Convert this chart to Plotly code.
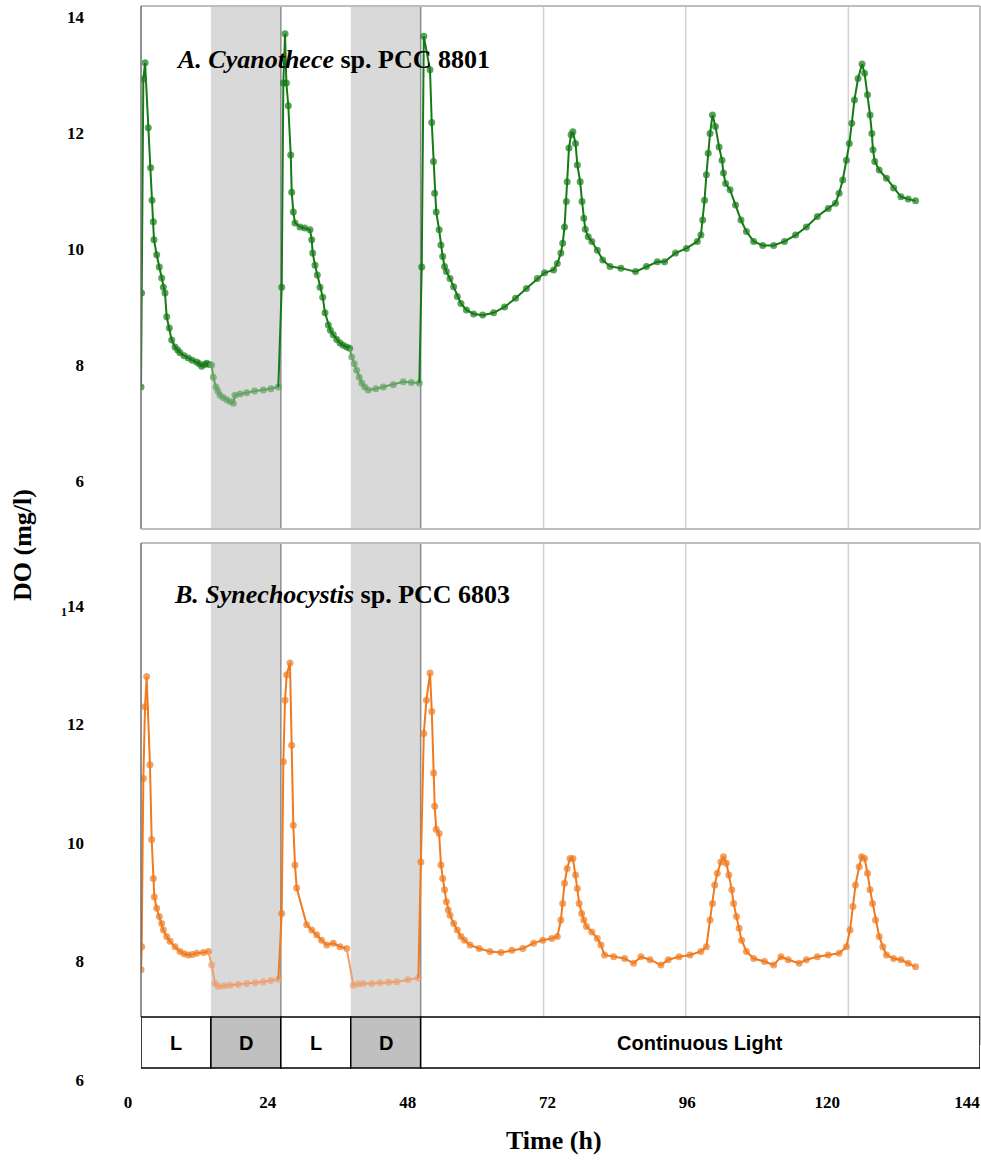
import plotly.graph_objects as go

# ---------------- data ----------------
cyano_time = [0.0, 0.1, 0.4, 0.7, 1.25, 1.66, 1.89, 2.11, 2.23, 2.69, 3.14, 3.55, 3.83, 4.12, 4.41,
              4.86, 5.27, 5.84, 6.3, 6.69, 7.4, 8.12, 8.8, 9.56, 10.0, 10.42, 10.9, 11.28, 11.7,
              12.13, 12.41, 12.87, 13.2, 13.56, 14.1, 14.71, 15.3, 15.84, 16.13, 17.0, 18.14, 19.5,
              20.99, 22.3, 23.57,
              24.15, 24.43, 24.72, 24.95, 25.28, 25.7, 25.87, 26.14, 26.43, 27.29, 28.1, 29.0, 29.3,
              29.47, 29.87, 30.26, 30.72, 31.19, 31.58, 32.15, 32.5, 33.0, 33.6, 34.16, 34.7, 35.3, 35.8,
              36.17, 36.6, 37.02, 37.45, 37.88, 38.4, 39.01, 40.3, 41.59, 43.3, 45.02, 46.4, 47.77,
              48.18, 48.54, 49.6, 49.9, 50.2, 50.4, 50.67, 51.17, 51.48, 51.78, 52.1, 52.42, 53.04,
              53.66, 54.29, 54.91, 55.85, 57.09, 58.65, 60.52, 62.4, 64.28, 66.15, 68.02, 69.26, 70.82,
              71.45, 72.07, 72.38, 72.69, 73.0, 73.14, 73.45, 73.82, 74.13, 74.58, 74.89, 75.38, 75.69,
              76.0, 76.26, 76.76, 77.38, 78.32, 79.25, 80.5, 82.37, 84.88, 86.75, 88.62, 89.86, 91.74,
              93.61, 95.48, 96.1, 96.41, 96.72, 97.04, 97.35, 97.66, 98.09, 98.6, 99.22, 99.72, 99.97,
              100.34, 101.1, 102.04, 102.97, 103.91, 105.15, 106.71, 108.58, 110.45, 112.34, 114.2,
              116.08, 117.95, 119.2, 119.82, 120.44, 121.07, 121.57, 122.0, 122.45, 123.07, 123.76,
              124.19, 124.7, 125.13, 125.44, 125.63, 125.94, 126.7, 127.94, 129.18, 130.43, 131.68, 132.94]
cyano_do = [7.62, 9.24, 12.93, 13.21, 12.09, 11.40, 10.84, 10.47, 10.16, 9.90, 9.69, 9.50, 9.34, 9.24, 8.83,
            8.64, 8.43, 8.31, 8.26, 8.21, 8.16, 8.12, 8.08, 8.05, 8.02, 7.98, 8.01, 8.03, 8.01,
            8.00, 7.79, 7.62, 7.55, 7.48, 7.44, 7.40, 7.37, 7.34, 7.48, 7.50, 7.52, 7.55,
            7.57, 7.59, 7.62,
            9.34, 12.86, 13.71, 12.86, 12.47, 11.62, 10.98, 10.64, 10.45, 10.38, 10.36, 10.33, 10.16,
            9.93, 9.72, 9.55, 9.34, 9.17, 8.90, 8.69, 8.60, 8.52, 8.44, 8.38, 8.34, 8.31, 8.29,
            8.14, 8.02, 7.91, 7.79, 7.69, 7.62, 7.57, 7.59, 7.62, 7.66, 7.71, 7.70, 7.69,
            9.69, 13.67, 13.09, 12.18, 11.51, 10.96, 10.64, 10.33, 10.07, 9.87, 9.70, 9.61, 9.49,
            9.35, 9.18, 9.06, 8.95, 8.88, 8.86, 8.90, 9.00, 9.15, 9.32, 9.49, 9.59, 9.64,
            9.75, 9.93, 10.10, 10.38, 10.82, 11.16, 11.74, 11.97, 12.02, 11.82, 11.45, 11.16, 10.82,
            10.53, 10.34, 10.21, 10.13, 9.98, 9.81, 9.70, 9.67, 9.61, 9.70, 9.78, 9.78, 9.93,
            10.01, 10.13, 10.24, 10.50, 10.84, 11.28, 11.65, 11.99, 12.31, 12.11, 11.76, 11.53, 11.31,
            11.13, 11.02, 10.76, 10.50, 10.30, 10.13, 10.06, 10.06, 10.13, 10.24, 10.38,
            10.56, 10.70, 10.79, 10.96, 11.19, 11.53, 11.82, 12.17, 12.57, 12.94, 13.19,
            13.03, 12.66, 12.31, 11.99, 11.71, 11.51, 11.36, 11.22, 11.05, 10.90, 10.86, 10.83]

syn_time = [0.0, 0.12, 0.4, 0.69, 0.97, 1.54, 1.83, 2.12, 2.29, 2.69, 3.14, 3.55, 3.83, 4.41, 4.98,
            5.84, 6.69, 7.4, 8.12, 8.8, 9.56, 10.7, 11.56,
            12.13, 12.7, 13.27, 14.3, 15.28, 16.7, 18.14, 19.6, 20.99, 22.3, 23.57,
            24.15, 24.43, 24.72, 25.0, 25.57, 25.86, 26.14, 26.43, 26.72, 28.44, 29.3, 30.16, 31.0,
            31.87, 33.0, 34.16, 35.3,
            36.45, 37.3, 38.16, 39.6, 41.02, 42.5, 43.89, 45.8, 47.6,
            48.04, 48.54, 48.99, 49.61, 49.91, 50.23, 50.41, 50.67, 51.17, 51.48, 51.78, 52.1, 52.42,
            52.73, 53.04, 53.66, 54.29, 54.91, 55.53, 56.47, 58.03, 59.9, 61.78, 63.65, 65.52, 67.39,
            68.95, 70.51, 71.45, 72.07, 72.38, 72.69, 73.14, 73.64, 74.13, 74.58, 74.89, 75.2, 75.63,
            76.0, 76.45, 77.38, 78.32, 78.94, 79.56, 81.12, 83.0, 84.55, 85.81, 87.37, 89.24, 90.49,
            92.36, 94.23, 96.1, 97.04, 97.66, 98.09, 98.47, 98.91, 99.53, 99.97, 100.46, 100.89, 101.4,
            101.71, 102.21, 102.66, 103.08, 103.91, 105.15, 107.02, 108.58, 109.84, 111.08, 112.96,
            114.2, 116.08, 117.95, 119.82, 121.07, 121.69, 122.19, 122.63, 123.26, 123.68, 124.19,
            124.7, 125.13, 125.56, 126.07, 126.7, 127.32, 127.94, 129.18, 130.43, 131.68, 132.94]
syn_do = [7.86, 8.25, 11.09, 12.30, 12.81, 11.32, 10.06, 9.40, 9.09, 8.90, 8.76, 8.64, 8.53, 8.42, 8.34,
          8.25, 8.17, 8.13, 8.11, 8.12, 8.14, 8.15, 8.17,
          7.94, 7.63, 7.58, 7.59, 7.60, 7.61, 7.63, 7.64, 7.66, 7.68, 7.70,
          8.81, 11.37, 12.41, 12.84, 13.04, 11.65, 10.30, 9.63, 9.24, 8.62, 8.53, 8.45, 8.36,
          8.28, 8.31, 8.25, 8.22,
          7.60, 7.62, 7.63, 7.63, 7.64, 7.65, 7.66, 7.69, 7.72,
          9.68, 11.85, 12.41, 12.87, 12.22, 11.18, 10.62, 10.23, 10.16, 9.63, 9.40, 9.21, 9.01,
          8.87, 8.78, 8.64, 8.53, 8.42, 8.36, 8.28, 8.22, 8.17, 8.15, 8.19, 8.22, 8.31,
          8.36, 8.39, 8.42, 8.70, 8.98, 9.32, 9.57, 9.74, 9.74, 9.46, 9.23, 8.98, 8.81,
          8.70, 8.59, 8.50, 8.39, 8.28, 8.11, 8.08, 8.05, 7.97, 8.08, 8.03, 7.94, 8.03,
          8.08, 8.11, 8.17, 8.25, 8.70, 8.98, 9.29, 9.49, 9.68, 9.77, 9.66, 9.46, 9.21,
          8.98, 8.76, 8.56, 8.36, 8.17, 8.05, 8.00, 7.94, 8.08, 8.03, 7.97,
          8.03, 8.08, 8.11, 8.14, 8.25, 8.53, 8.93, 9.29, 9.60, 9.77, 9.74,
          9.49, 9.21, 8.98, 8.70, 8.42, 8.25, 8.11, 8.05, 8.03, 7.97, 7.91]

phase_labels = ["L", "D", "L", "D", "Continuous Light"]
phase_start = [0, 12, 24, 36, 48]
phase_end = [12, 24, 36, 48, 144]
grid_hours = [69.1, 93.5, 121.4]

x_ticks = [0, 24, 48, 72, 96, 120, 144]
y_ticks = [6, 8, 10, 12, 14]
y_ticktext_top = ["6", "8", "10", "12", "14"]
y_ticktext_bottom = ["6", "8", "10", "12", "<sub>1</sub>14"]

panel_titles = ["<b><i>A. Cyanothece</i> sp. PCC 8801</b>",
                "<b><i>B. Synechocystis</i> sp. PCC 6803</b>"]

# ---------------- styling / layout geometry ----------------
W, H = 981, 1167
L_M, R_M, T_M, B_M = 141, 1, 6, 79
PLOT_BOTTOM = H - B_M  # pixel


def py(p):
    """pixel row -> paper fraction"""
    return (PLOT_BOTTOM - p) / (PLOT_BOTTOM - T_M)


def px(p):
    return (p - L_M) / (W - L_M - R_M)


GREEN_L, GREEN_D = "rgb(22,122,22)", "rgb(98,163,98)"
ORANGE_L, ORANGE_D = "rgb(240,122,32)", "rgb(236,160,112)"
SERIF = "Liberation Serif"
SANS = "Liberation Sans"

fig = go.Figure()


def add_series(times, values, xa, ya, col_light, col_dark):
    for i, (s, e, lab) in enumerate(zip(phase_start, phase_end, phase_labels)):
        idx = [k for k, t in enumerate(times) if s <= t < e]
        if not idx:
            continue
        if idx[0] > 0:
            idx = [idx[0] - 1] + idx
            first_hidden = True
        else:
            first_hidden = False
        xs = [times[k] for k in idx]
        ys = [values[k] for k in idx]
        col = col_dark if lab == "D" else col_light
        sizes = [7] * len(xs)
        if first_hidden:
            sizes[0] = 0
        fig.add_trace(go.Scatter(x=xs, y=ys, xaxis=xa, yaxis=ya, mode="lines+markers",
                                 line=dict(color=col, width=2),
                                 marker=dict(color=col, size=sizes, line=dict(width=0)),
                                 showlegend=False, hoverinfo="skip"))


add_series(cyano_time, cyano_do, "x", "y", GREEN_L, GREEN_D)
add_series(syn_time, syn_do, "x2", "y2", ORANGE_L, ORANGE_D)

shapes = []
top_y0, top_y1 = py(529), py(6)
bot_y0, bot_y1 = py(1017), py(543)

# dark bands
for s, e, lab in zip(phase_start, phase_end, phase_labels):
    if lab == "D":
        shapes.append(dict(type="rect", xref="x", yref="paper", x0=s, x1=e, y0=top_y0, y1=top_y1,
                           fillcolor="#d9d9d9", line=dict(width=0), layer="below"))
        shapes.append(dict(type="rect", xref="x2", yref="paper", x0=s, x1=e, y0=bot_y0, y1=bot_y1,
                           fillcolor="#d9d9d9", line=dict(width=0), layer="below"))
        for xr, (a, b) in (("x", (top_y0, top_y1)), ("x2", (bot_y0, bot_y1))):
            shapes.append(dict(type="line", xref=xr, yref="paper", x0=e, x1=e, y0=a, y1=b,
                               line=dict(color="#8c8c8c", width=1.5), layer="below"))
# grid lines
for g in grid_hours:
    for xr, (a, b) in (("x", (top_y0, top_y1)), ("x2", (bot_y0, bot_y1))):
        shapes.append(dict(type="line", xref=xr, yref="paper", x0=g, x1=g, y0=a, y1=b,
                           line=dict(color="#d2d2d2", width=1.5), layer="below"))

# panel frames
FRAME = "#bdbdbd"
for (a, b, rb) in ((top_y0, top_y1, top_y0), (bot_y0, bot_y1, py(1045))):
    shapes.append(dict(type="line", xref="paper", yref="paper", x0=0, x1=1, y0=b, y1=b,
                       line=dict(color=FRAME, width=2)))
    shapes.append(dict(type="line", xref="paper", yref="paper", x0=1, x1=1, y0=rb, y1=b,
                       line=dict(color=FRAME, width=2)))
    shapes.append(dict(type="line", xref="paper", yref="paper", x0=0, x1=0, y0=a, y1=b,
                       line=dict(color="#6e6e6e", width=1.5)))
shapes.append(dict(type="line", xref="paper", yref="paper", x0=0, x1=1, y0=top_y0, y1=top_y0,
                   line=dict(color=FRAME, width=2)))

# light / dark boxes
box_y0, box_y1 = py(1068), py(1017)
annotations = []
for s, e, lab in zip(phase_start, phase_end, phase_labels):
    shapes.append(dict(type="rect", xref="x2", yref="paper", x0=s, x1=e, y0=box_y0, y1=box_y1,
                       fillcolor="#c0c0c0" if lab == "D" else "white",
                       line=dict(color="black", width=1.5), layer="above"))
    annotations.append(dict(x=(s + e) / 2, y=py(1043), xref="x2", yref="paper", text=lab,
                            showarrow=False, font=dict(family=SANS, size=20, color="black", weight="bold"),
                            xanchor="center", yanchor="middle"))

annotations.append(dict(x=px(174), y=py(60), xref="paper", yref="paper", text=panel_titles[0],
                        showarrow=False, xanchor="left", yanchor="middle",
                        font=dict(family=SERIF, size=26, color="black")))
annotations.append(dict(x=px(172), y=py(594), xref="paper", yref="paper", text=panel_titles[1],
                        showarrow=False, xanchor="left", yanchor="middle",
                        font=dict(family=SERIF, size=26, color="black")))
annotations.append(dict(x=px(22), y=py(545), xref="paper", yref="paper", text="<b>DO (mg/l)</b>",
                        showarrow=False, textangle=-90, xanchor="center", yanchor="middle",
                        font=dict(family=SERIF, size=26, color="black")))
annotations.append(dict(x=px(554), y=py(1140), xref="paper", yref="paper", text="<b>Time (h)</b>",
                        showarrow=False, xanchor="center", yanchor="middle",
                        font=dict(family=SERIF, size=26, color="black")))

tickfont = dict(family=SERIF, size=17, color="black", weight="bold")

fig.update_layout(
    width=W, height=H,
    margin=dict(l=L_M, r=R_M, t=T_M, b=B_M),
    paper_bgcolor="white", plot_bgcolor="white",
    shapes=shapes, annotations=annotations,
    xaxis=dict(domain=[0, 1], range=[0, 144], anchor="y", showticklabels=False, showgrid=False,
               zeroline=False, showline=False, ticks=""),
    yaxis=dict(domain=[top_y0, top_y1], range=[6 - (529 - 481) / 58, 14 + (17 - 6) / 58],
               tickvals=y_ticks, ticktext=y_ticktext_top, showgrid=False, zeroline=False,
               showline=False, ticks="", ticklabelstandoff=56, tickfont=tickfont),
    xaxis2=dict(domain=[0, 1], range=[0, 144], anchor="y2", tickvals=x_ticks,
                ticktext=[str(v) for v in x_ticks], showgrid=False, zeroline=False, showline=False,
                ticks="", tickfont=tickfont, ticklabelshift=-13, ticklabelstandoff=2,
                ticklabeloverflow="allow"),
    yaxis2=dict(domain=[0, py(543)], range=[6 - (PLOT_BOTTOM - 1080) / 59.25, 14 + (606 - 543) / 59.25],
                tickvals=y_ticks, ticktext=y_ticktext_bottom, showgrid=False, zeroline=False,
                showline=False, ticks="", ticklabelstandoff=56, tickfont=tickfont),
)

fig.write_html("out.html", config={"displayModeBar": False})

# remove the browser's default page margin so the figure sits at the window origin
with open("out.html", "r", encoding="utf-8") as fh:
    html = fh.read()
html = html.replace("<head>", "<head><style>html,body{margin:0;padding:0;overflow:hidden;}</style>", 1)
with open("out.html", "w", encoding="utf-8") as fh:
    fh.write(html)
